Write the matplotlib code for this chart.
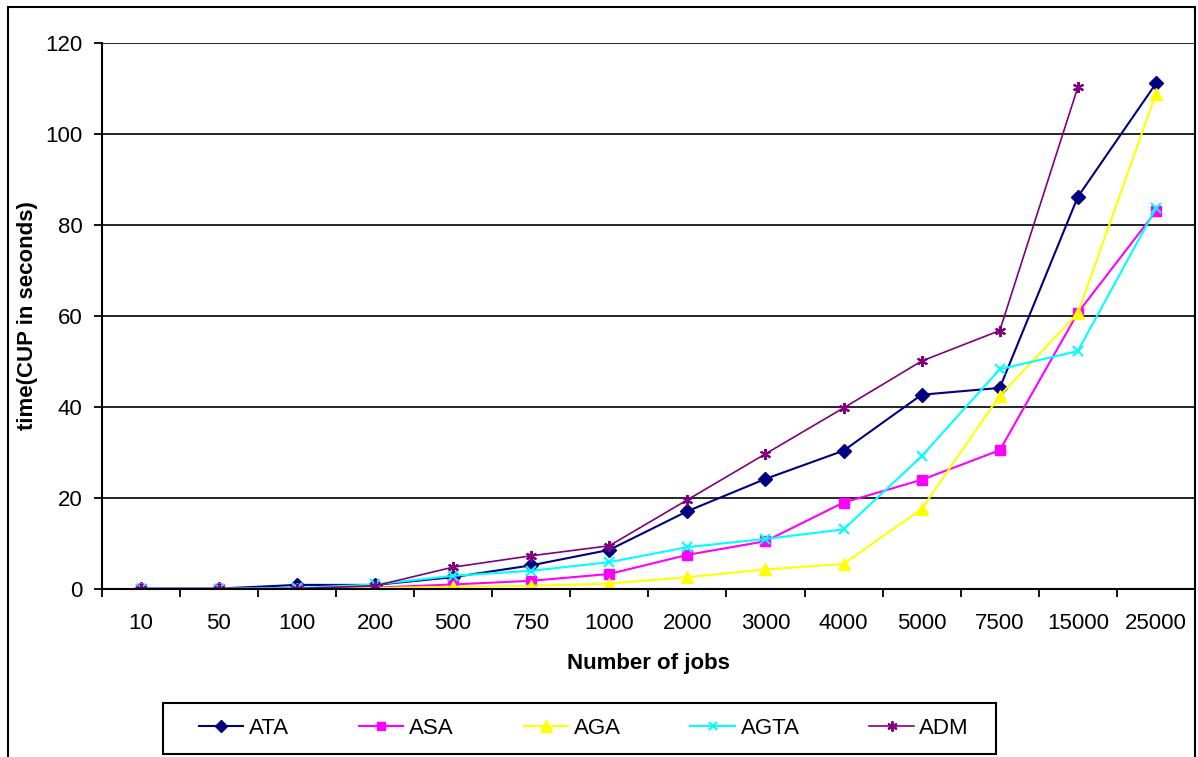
import numpy as np
import matplotlib.pyplot as plt
from matplotlib.patches import Rectangle

plt.rcParams['font.family'] = ['Liberation Sans', 'DejaVu Sans']

jobs = ['10', '50', '100', '200', '500', '750', '1000', '2000',
        '3000', '4000', '5000', '7500', '15000', '25000']

ata = [0.1, 0.1, 0.9, 0.9, 2.6, 5.2, 8.6, 17.1, 24.2, 30.4, 42.7, 44.2, 86.2, 111.1]
asa = [0.05, 0.05, 0.1, 0.3, 1.0, 1.8, 3.3, 7.5, 10.5, 19.0, 24.0, 30.5, 60.7, 83.0]
aga = [0.02, 0.02, 0.05, 0.2, 0.5, 0.7, 1.2, 2.6, 4.3, 5.5, 17.6, 42.5, 60.6, 108.9]
agta = [0.05, 0.05, 0.2, 1.0, 2.9, 4.0, 5.9, 9.2, 11.0, 13.1, 29.2, 48.3, 52.3, 83.7]
adm = [0.05, 0.05, 0.1, 0.7, 4.8, 7.3, 9.5, 19.6, 29.7, 39.8, 50.1, 56.8, 110.3, np.nan]

series = [
    ('ATA', ata, '#000080', 'D', 7),
    ('ASA', asa, '#FF00FF', 's', 7),
    ('AGA', aga, '#FFFF00', '^', 9),
    ('AGTA', agta, '#00FFFF', 'x', 7),
    ('ADM', adm, '#800080', (6, 2, 0), 8),
]

FS = 16
W, H = 1198, 757
fig = plt.figure(figsize=(W / 100, H / 100), dpi=100)

# outer chart border (excel style)
fig.patches.append(Rectangle((8 / W, -0.02), (1195 - 8) / W, 1.02 - 7 / H,
                             transform=fig.transFigure, fill=False,
                             edgecolor='black', lw=1.5))
# legend frame
fig.patches.append(Rectangle((163 / W, 1 - 754 / H), (996 - 163) / W, 51 / H,
                             transform=fig.transFigure, fill=False,
                             edgecolor='black', lw=1.5))

ax = fig.add_axes([101.7 / W, 1 - 589 / H, (1195 - 101.7) / W, (589 - 43) / H])

x = np.arange(len(jobs))
for name, vals, col, mk, ms in series:
    lw = 1.2 if name == 'ADM' else 1.5
    mew = 1.5 if mk == 'x' or isinstance(mk, tuple) else 1
    ax.plot(x, vals, color=col, marker=mk, markersize=ms, lw=lw,
            markeredgewidth=mew, markeredgecolor=col, markerfacecolor=col,
            label=name)

ax.set_xlim(-0.5, len(jobs) - 0.5)
ax.set_ylim(0, 120)
ax.set_yticks(range(0, 121, 20))
ax.set_xticks(x)
ax.set_xticklabels(jobs)
ax.set_xticks(np.arange(-0.5, len(jobs), 1), minor=True)
ax.tick_params(axis='x', which='major', length=0, pad=17, labelsize=FS)
ax.tick_params(axis='x', which='minor', length=6, width=1.3, direction='out')
ax.tick_params(axis='y', length=6, width=1.3, direction='out', pad=8, labelsize=FS)

ax.yaxis.grid(True, color='black', lw=1.2)
ax.set_axisbelow(True)
for s in ['top', 'right']:
    ax.spines[s].set_visible(False)
for s in ['left', 'bottom']:
    ax.spines[s].set_linewidth(1.5)

fig.text(648 / W, 1 - 664 / H, 'Number of jobs', ha='center', va='center',
         fontsize=FS, fontweight='bold')
fig.text(28 / W, 1 - 316 / H, 'time(CUP in seconds)', ha='center', va='center',
         rotation=90, fontsize=FS, fontweight='bold')

leg = fig.legend(loc='center', ncol=5, mode='expand',
                 bbox_to_anchor=(199 / W, 1 - 741 / H, (969 - 199) / W, 26 / H),
                 fontsize=FS, handlelength=2.0, handletextpad=0.25,
                 borderaxespad=0, borderpad=0, frameon=False, markerscale=0.9)

fig.savefig('out.png', dpi=100)
